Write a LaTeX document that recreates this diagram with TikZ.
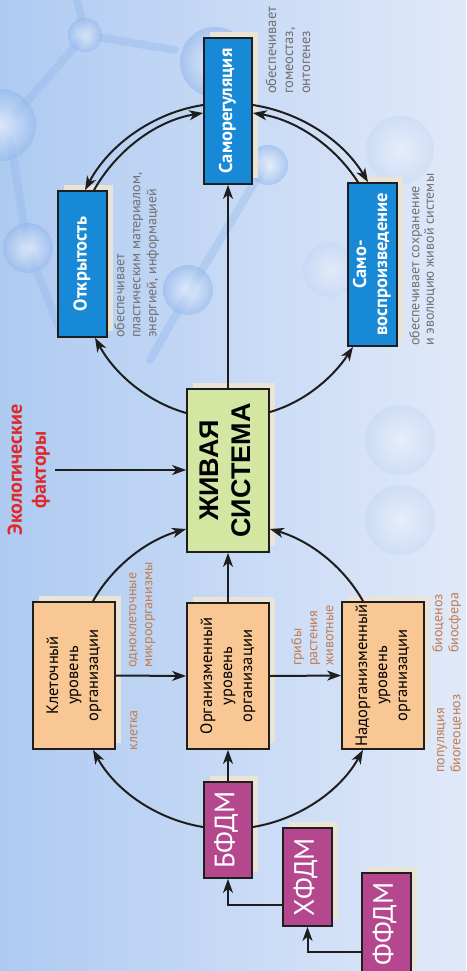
\documentclass[tikz,border=0pt]{standalone}
\usepackage{fontspec}
\setmainfont{PT Sans}
\newfontfamily\heavyfont{Liberation Sans}
\usetikzlibrary{arrows.meta,calc,shadows}

\definecolor{bgA}{HTML}{AECAF1}
\definecolor{bgB}{HTML}{E0E9F9}
\definecolor{molec}{HTML}{8FB5EC}
\definecolor{propblue}{HTML}{1789D6}
\definecolor{levelfill}{HTML}{F8C793}
\definecolor{corefill}{HTML}{D3E6A2}
\definecolor{modelfill}{HTML}{B5478E}
\definecolor{shadowc}{HTML}{E9E4D6}
\definecolor{edge}{HTML}{1E1E1E}
\definecolor{notegray}{HTML}{707070}
\definecolor{notebrown}{HTML}{C27C4E}
\definecolor{ecored}{HTML}{E02828}

\tikzset{
  box/.style={draw=edge, line width=1.7pt, inner sep=0pt,
    general shadow={fill=shadowc, shadow xshift=6pt, shadow yshift=6pt}},
  propbox/.style={box, fill=propblue, text=white,
    font=\bfseries\fontsize{18.5}{21}\selectfont},
  levelbox/.style={box, fill=levelfill, text=black,
    font=\fontsize{16.5}{20}\selectfont},
  corebox/.style={box, fill=corefill, text=black,
    font=\heavyfont\bfseries\fontsize{27}{32}\selectfont},
  modelbox/.style={box, fill=modelfill, text=white,
    font=\fontsize{28}{32}\selectfont},
  note/.style={inner sep=0pt, anchor=south west, text=notegray,
    font=\fontsize{14}{16}\selectfont},
  brownnote/.style={note, text=notebrown},
  arr/.style={draw=edge, line width=2pt,
    -{Stealth[length=14pt,width=10pt,inset=4pt]}},
  bond/.style={line width=8pt, color=molec, opacity=0.35, line cap=round},
  atom/.style={inner color=white, outer color=molec, opacity=0.55},
  faintatom/.style={inner color=white, outer color=molec!60!white, opacity=0.35}
}

\newcommand{\vlabel}[2][c]{\rotatebox{90}{\begin{tabular}{@{}#1@{}}#2\end{tabular}}}

\begin{document}
\begin{tikzpicture}[x=1pt,y=-1pt]
\useasboundingbox (0,0) rectangle (466,971);

% background with molecule motif
\begin{scope}
  \clip (0,0) rectangle (466,971);
  \fill[left color=bgA, right color=bgB] (0,0) rectangle (466,971);
  \draw[bond] (75,-10) -- (85,35) -- (175,50);
  \draw[bond] (85,35) -- (15,115);
  \draw[bond] (10,140) -- (28,248) -- (60,330);
  \draw[bond] (265,165) -- (190,290);
  \draw[bond] (190,290) -- (150,360);
  \shade[atom] (85,35) circle (17);
  \shade[atom] (215,62) circle (35);
  \shade[atom] (0,125) circle (36);
  \shade[atom] (28,248) circle (25);
  \shade[atom] (188,290) circle (25);
  \shade[atom] (268,165) circle (20);
  \shade[faintatom] (400,150) circle (34);
  \shade[faintatom] (330,270) circle (27);
  \shade[faintatom] (400,440) circle (35);
  \shade[faintatom] (400,520) circle (35);
\end{scope}

% properties of a living system
\node[propbox, minimum width=48pt, minimum height=146pt] (samoreg) at (228,111)
  {\vlabel{Саморегуляция}};
\node[propbox, minimum width=49pt, minimum height=146pt] (otkr) at (82.5,264)
  {\vlabel{Открытость}};
\node[propbox, minimum width=49pt, minimum height=163pt] (samovosp) at (372.5,264.5)
  {\vlabel{Само-\\воспроизведение}};

% central node
\node[corebox, minimum width=82pt, minimum height=163pt] (zs) at (228,470.5)
  {\vlabel{ЖИВАЯ\\СИСТЕМА}};

% levels of organisation
\node[levelbox, minimum width=82pt, minimum height=147pt] (klet) at (74,675.5)
  {\vlabel{Клеточный\\уровень\\организации}};
\node[levelbox, minimum width=82pt, minimum height=146pt] (org) at (228,676)
  {\vlabel{Организменный\\уровень\\организации}};
\node[levelbox, minimum width=82pt, minimum height=147pt] (nadorg) at (383,675.5)
  {\vlabel{Надорганизменный\\уровень\\организации}};

% models
\node[modelbox, minimum width=48pt, minimum height=96pt] (bfdm) at (228,830)
  {\vlabel{БФДМ}};
\node[modelbox, minimum width=49pt, minimum height=98pt] (hfdm) at (307.5,877)
  {\vlabel{ХФДМ}};
\node[modelbox, minimum width=49pt, minimum height=102pt] (ffdm) at (386.5,924)
  {\vlabel{ФФДМ}};

% ecological factors
\node[inner sep=0pt, text=ecored, font=\bfseries\fontsize{20}{24}\selectfont]
  (eco) at (29,470) {\vlabel{Экологические\\факторы}};

% notes
\node[note, font=\fontsize{14.5}{17}\selectfont] (nhomeo) at (264,94)
  {\vlabel[l]{обеспечивает\\гомеостаз,\\онтогенез}};
\node[note] (nopen) at (113,338)
  {\vlabel[l]{обеспечивает\\пластическим материалом,\\энергией, информацией}};
\node[note, font=\fontsize{14}{14.5}\selectfont] (nrepro) at (409,346)
  {\vlabel[l]{обеспечивает сохранение\\и эволюцию живой системы}};
\node[brownnote] (ncell) at (126,751) {\vlabel[l]{клетка}};
\node[brownnote] (nuni) at (125,668) {\vlabel[l]{одноклеточные\\микроорганизмы}};
\node[brownnote] (nmulti) at (290,666) {\vlabel[l]{грибы\\растения\\животные}};
\node[brownnote] (npop) at (433,773) {\vlabel[l]{популяция\\биогеоценоз}};
\node[brownnote] (nbio) at (431,653) {\vlabel[l]{биоценоз\\биосфера}};

% upper ring
\draw[arr] ($(samoreg.west)+(0,-6)$) .. controls (152.9,112.7) and (108.7,145.1) .. ($(otkr.north)+(2.5,0)$);
\draw[arr] ($(otkr.north)+(11.5,0)$) .. controls (116.9,149.5) and (157.2,120.4) .. ($(samoreg.west)+(0,2)$);
\draw[arr] ($(samoreg.east)+(0,-6)$) .. controls (300.5,112.3) and (343.2,140.7) .. ($(samovosp.north)+(-4.5,0)$);
\draw[arr] ($(samovosp.north)+(-14.5,0)$) .. controls (334.4,145.5) and (295.8,119.9) .. ($(samoreg.east)+(0,2)$);
\draw[arr] ($(zs.west)+(0,-57.5)$) .. controls (147.4,402) and (114.8,374) .. ($(otkr.south)+(12.5,0)$);
\draw[arr] ($(zs.east)+(0,-58.5)$) .. controls (304.2,402.2) and (333,377.5) .. ($(samovosp.south)+(-19.5,0)$);
\draw[arr] (zs.north) -- (samoreg.south);
\draw[arr] ($(eco.east)+(2,0)$) -- (eco.east -| zs.west);

% lower ring
\draw[arr] ($(klet.north)+(19,0)$) .. controls (112.8,565.9) and (147.3,540.1) .. ($(zs.west)+(0,58.5)$);
\draw[arr] ($(nadorg.north)+(-20,0)$) .. controls (343.2,565.9) and (308.7,540.1) .. ($(zs.east)+(0,58.5)$);
\draw[arr] (org.north) -- (zs.south);
\draw[arr] (klet.east) -- (org.west);
\draw[arr] (org.east) -- (nadorg.west);
\draw[arr] (bfdm.north) -- (org.south);
\draw[arr] ($(bfdm.west)+(0,-3)$) .. controls (156.9,819.5) and (115.7,791) .. ($(klet.south)+(19,0)$);
\draw[arr] ($(bfdm.east)+(0,-3)$) .. controls (299.1,819.5) and (340.3,791) .. ($(nadorg.south)+(-20,0)$);
\draw[arr] ($(hfdm.west)+(0,28)$) -| (bfdm.south);
\draw[arr] ($(ffdm.west)+(0,28)$) -| (hfdm.south);
\end{tikzpicture}
\end{document}
